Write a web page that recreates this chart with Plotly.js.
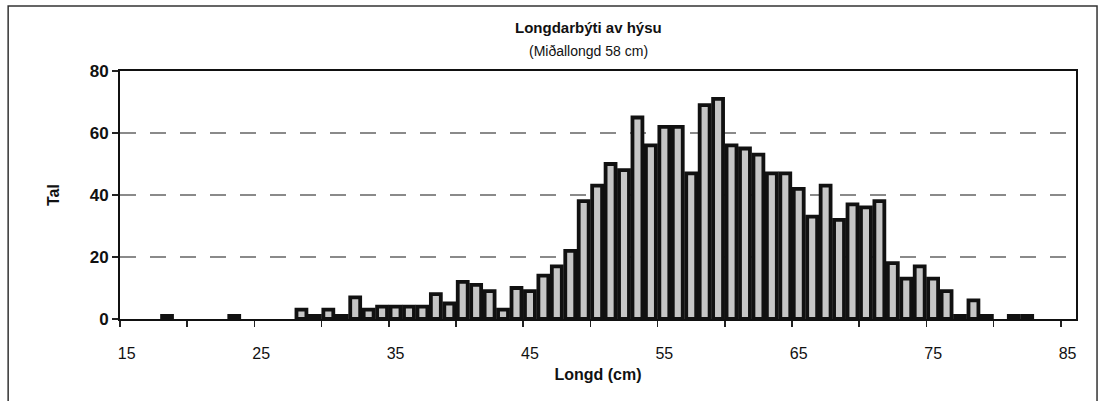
<!DOCTYPE html>
<html>
<head>
<meta charset="utf-8">
<script src="https://cdn.plot.ly/plotly-3.0.1.min.js"></script>
<style>html,body{margin:0;padding:0;background:#fff}#chart{width:1106px;height:401px}</style>
</head>
<body>
<div id="chart"></div>
<script>
// Data
const lengths = [18,19,20,21,22,23,24,25,26,27,28,29,30,31,32,33,34,35,36,37,38,39,40,41,42,43,44,45,46,47,48,49,50,51,52,53,54,55,56,57,58,59,60,61,62,63,64,65,66,67,68,69,70,71,72,73,74,75,76,77,78,79,80,81,82];
const counts  = [1,0,0,0,0,1,0,0,0,0,3,1,3,1,7,3,4,4,4,4,8,5,12,11,9,3,10,9,14,17,22,38,43,50,48,65,56,62,62,47,69,71,56,55,53,47,47,42,33,43,32,37,36,38,18,13,17,13,9,1,6,1,0,1,1];
const xTickVals = [15,25,35,45,55,65,75,85];
const xTickText = ["15","25","35","45","55","65","75","85"];
const yTickVals = [0,20,40,60,80];
const minorTicks = [14.5,19.5,24.5,29.5,34.5,39.5,44.5,49.5,54.5,59.5,64.5,69.5,74.5,79.5,84.5];
const chartTitle = "Longdarbýti av hýsu";
const chartSubtitle = "(Miðallongd 58 cm)";
const xTitle = "Longd (cm)";
const yTitle = "Tal";

const font = "Liberation Sans, Arial, sans-serif";

// only lengths with fish get a bar (empty classes draw nothing)
const idx = counts.map((c, i) => i).filter(i => counts[i] > 0);

const trace = {
  type: "bar",
  x: idx.map(i => lengths[i]),
  y: idx.map(i => counts[i]),
  marker: { color: "#c6c6c6", line: { color: "#111", width: 3.8 } },
  width: 0.74,
  hoverinfo: "x+y"
};

const layout = {
  width: 1106, height: 401,
  margin: { l: 120, r: 30, t: 71, b: 82 },
  paper_bgcolor: "#fff", plot_bgcolor: "#fff",
  showlegend: false,
  font: { family: font, color: "#111" },
  xaxis: {
    range: [14.5, 85.63],
    tickmode: "array", tickvals: xTickVals, ticktext: xTickText,
    ticks: "", ticklabelstandoff: 19,
    tickfont: { size: 16, family: font, color: "#111" },
    minor: { tickmode: "array", tickvals: minorTicks, ticks: "outside", ticklen: 6, tickwidth: 1.5, tickcolor: "#222", showgrid: false },
    showgrid: false, zeroline: false,
    showline: true, linecolor: "#111", linewidth: 2, mirror: true,
    title: { text: xTitle, font: { size: 16, family: font, color: "#111", weight: "bold" }, standoff: 8 },
    fixedrange: true
  },
  yaxis: {
    range: [0, 80],
    tickmode: "array", tickvals: yTickVals,
    ticks: "outside", ticklen: 6, tickwidth: 1.5, tickcolor: "#222",
    tickfont: { size: 17, family: font, color: "#111", weight: "bold" },
    showgrid: true, gridcolor: "#8a8a8a", gridwidth: 2, griddash: "16px,14px",
    zeroline: false,
    showline: true, linecolor: "#111", linewidth: 2, mirror: true,
    title: { text: yTitle, font: { size: 16, family: font, color: "#111", weight: "bold" }, standoff: 26 },
    fixedrange: true
  },
  annotations: [
    { text: "<b>" + chartTitle + "</b>", xref: "paper", yref: "paper", x: 0.49, y: 1.175, xanchor: "center", yanchor: "middle", showarrow: false, font: { size: 15, family: font, color: "#111" } },
    { text: chartSubtitle, xref: "paper", yref: "paper", x: 0.49, y: 1.08, xanchor: "center", yanchor: "middle", showarrow: false, font: { size: 14, family: font, color: "#111" } }
  ],
  shapes: [
    { type: "rect", xref: "paper", yref: "paper", x0: -0.117, x1: 1.022, y0: -0.36, y1: 1.262, line: { color: "#333", width: 1.5 }, fillcolor: "rgba(0,0,0,0)", layer: "below" }
  ],
  bargap: 0.26
};

Plotly.newPlot("chart", [trace], layout, { displayModeBar: false, staticPlot: true });
</script>
</body>
</html>
